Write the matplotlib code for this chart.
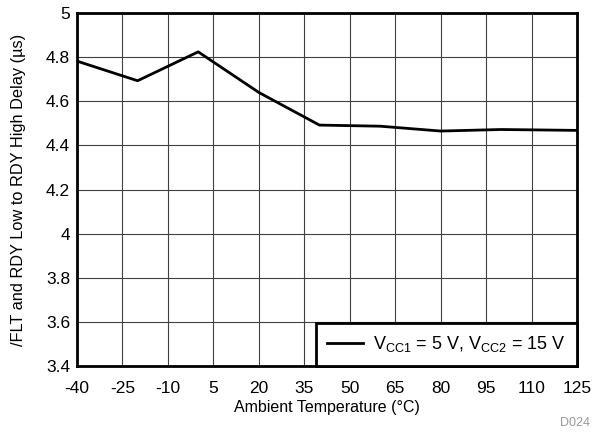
import matplotlib
matplotlib.use("Agg")
import matplotlib.pyplot as plt

plt.rcParams['font.family'] = ['Liberation Sans', 'DejaVu Sans']
plt.rcParams['mathtext.fontset'] = 'custom'
plt.rcParams['mathtext.rm'] = 'Liberation Sans'
plt.rcParams['axes.unicode_minus'] = False

temp = [-40, -20, 0, 20, 40, 60, 80, 100, 125]
delay = [4.782, 4.693, 4.824, 4.64, 4.492, 4.487, 4.465, 4.472, 4.468]
xticks = [-40, -25, -10, 5, 20, 35, 50, 65, 80, 95, 110, 125]
yticks = [3.4, 3.6, 3.8, 4, 4.2, 4.4, 4.6, 4.8, 5]
ylabels = ['3.4', '3.6', '3.8', '4', '4.2', '4.4', '4.6', '4.8', '5']

fig = plt.figure(figsize=(6.13, 4.41), dpi=100)
ax = fig.add_axes([0.1256, 0.170, 0.8157, 0.8005])

ax.plot(temp, delay, color='black', lw=2.0,
        label=r'V$_{\mathregular{CC1}}$ = 5 V, V$_{\mathregular{CC2}}$ = 15 V')

ax.set_xlim(-40, 125)
ax.set_ylim(3.4, 5)
ax.set_xticks(xticks)
ax.set_yticks(yticks)
ax.set_yticklabels(ylabels)
ax.tick_params(length=0, labelsize=12.5)
ax.tick_params(axis='x', pad=11)
ax.tick_params(axis='y', pad=5)
ax.grid(True, color='#404040', lw=0.8)
for s in ax.spines.values():
    s.set_linewidth(2)

ax.set_xlabel('Ambient Temperature (°C)', fontsize=11.5, labelpad=3)
ax.set_ylabel('/FLT and RDY Low to RDY High Delay (µs)', fontsize=11.8, labelpad=14)

leg = ax.legend(loc='lower right', fontsize=13, fancybox=False, framealpha=1,
                edgecolor='black', borderaxespad=0, handlelength=2.0,
                handletextpad=0.5, borderpad=0.65)
leg.get_frame().set_linewidth(2)

fig.text(0.963, 0.035, 'D024', color='#999999', fontsize=9, ha='right')

fig.savefig('out.png', dpi=100)
